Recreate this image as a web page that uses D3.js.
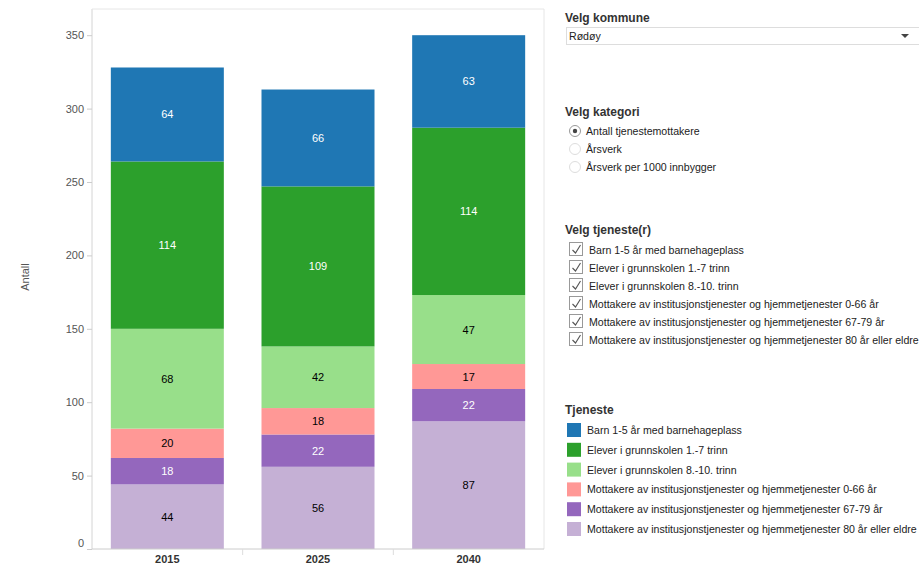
<!DOCTYPE html>
<html><head><meta charset="utf-8">
<script src="https://cdn.jsdelivr.net/npm/d3@7"></script>
<style>
body{margin:0;background:#fff;font-family:"Liberation Sans",Arial,sans-serif;}
svg text{font-family:"Liberation Sans",Arial,sans-serif;}
</style></head>
<body><svg id="c" width="919" height="575"></svg>
<script>
const years = ["2015","2025","2040"];
const services = [
  "Barn 1-5 år med barnehageplass",
  "Elever i grunnskolen 1.-7 trinn",
  "Elever i grunnskolen 8.-10. trinn",
  "Mottakere av institusjonstjenester og hjemmetjenester 0-66 år",
  "Mottakere av institusjonstjenester og hjemmetjenester 67-79 år",
  "Mottakere av institusjonstjenester og hjemmetjenester 80 år eller eldre"
];
const colors = ["#1f77b4","#2ca02c","#98df8a","#ff9896","#9467bd","#c5b0d5"];
const labelColors = ["#fff","#fff","#000","#000","#fff","#000"];
// values per service, per year (2015, 2025, 2040)
const barn = [64, 66, 63];
const elever17 = [114, 109, 114];
const elever810 = [68, 42, 47];
const mott066 = [20, 18, 17];
const mott6779 = [18, 22, 22];
const mott80 = [44, 56, 87];
const yTicks = [0,50,100,150,200,250,300,350];
const kategorier = ["Antall tjenestemottakere","Årsverk","Årsverk per 1000 innbygger"];
const kommune = "Rødøy";

const seriesVals = [barn, elever17, elever810, mott066, mott6779, mott80];
const rows = years.map((y,i)=>{const o={year:y}; services.forEach((s,k)=>o[s]=seriesVals[k][i]); return o;});
const stackOrder = services.slice().reverse();
const stacked = d3.stack().keys(stackOrder)(rows);

const svg = d3.select("#c");
const L=92, R=544, T=9, B=549;
const FS = 10.6;
const x = d3.scaleBand().domain(years).range([L,R]).paddingInner(0.25).paddingOuter(0.125);
const y = d3.scaleLinear().domain([0,350]).range([B,B-350*1.468]);

// frame
svg.append("line").attr("x1",L).attr("x2",L).attr("y1",T).attr("y2",B).attr("stroke","#d4d4d4");
svg.append("line").attr("x1",L).attr("x2",R).attr("y1",T).attr("y2",T).attr("stroke","#e6e6e6");
svg.append("line").attr("x1",R).attr("x2",R).attr("y1",T).attr("y2",B).attr("stroke","#e6e6e6");

// bars
stacked.forEach(layer=>{
  const k = services.indexOf(layer.key);
  const g = svg.append("g");
  g.selectAll("rect").data(layer).join("rect")
    .attr("x",d=>x(d.data.year)).attr("width",x.bandwidth())
    .attr("y",d=>y(d[1])).attr("height",d=>y(d[0])-y(d[1]))
    .attr("fill",colors[k]);
  g.selectAll("text").data(layer).join("text")
    .attr("x",d=>x(d.data.year)+x.bandwidth()/2)
    .attr("y",d=>(y(d[0])+y(d[1]))/2+4)
    .attr("text-anchor","middle").attr("font-size",11)
    .attr("fill",labelColors[k])
    .text(d=>d[1]-d[0]);
});

// y axis
const ya = svg.append("g").attr("transform",`translate(${L},0)`)
  .call(d3.axisLeft(y).tickValues(yTicks).tickSize(5).tickPadding(3));
ya.select(".domain").remove();
ya.selectAll(".tick line").attr("stroke","#ccc");
ya.selectAll(".tick text").attr("fill","#555").attr("font-size",11)
  .attr("dy",d=>d===0?"-0.2em":"0.32em");

// x axis
svg.append("line").attr("x1",L).attr("x2",R).attr("y1",B).attr("y2",B).attr("stroke","#ccc");
const step = x.step();
years.slice(1).forEach(yr=>{
  const xx = x(yr) - x.paddingInner()*step/2;
  svg.append("line").attr("x1",xx).attr("x2",xx).attr("y1",B).attr("y2",B+6).attr("stroke","#ddd");
});
svg.append("g").selectAll("text").data(years).join("text")
  .attr("x",d=>x(d)+x.bandwidth()/2).attr("y",B+14)
  .attr("text-anchor","middle").attr("font-size",11).attr("font-weight","bold").attr("fill","#333")
  .text(d=>d);

// y title
svg.append("text").attr("transform","translate(29,277) rotate(-90)").attr("text-anchor","middle")
  .attr("font-size",11).attr("fill","#555").text("Antall");

// right panel
const P = 565;
function title(t,yy){svg.append("text").attr("x",P).attr("y",yy).attr("font-size",12).attr("font-weight","bold").attr("fill","#333").text(t);}
title("Velg kommune",22);
svg.append("rect").attr("x",566.5).attr("y",27.5).attr("width",360).attr("height",17).attr("fill","#fff").attr("stroke","#ddd");
svg.append("text").attr("x",569).attr("y",40).attr("font-size",FS).attr("fill","#222").text(kommune);
svg.append("path").attr("d","M901,34 L909,34 L905,38 Z").attr("fill","#444");

title("Velg kategori",116);
kategorier.forEach((k,i)=>{
  const cy = 131+i*18;
  svg.append("circle").attr("cx",575).attr("cy",cy).attr("r",5.5).attr("fill","#fff").attr("stroke",i===0?"#999":"#ddd");
  if(i===0) svg.append("circle").attr("cx",575).attr("cy",cy).attr("r",2.2).attr("fill","#444");
  svg.append("text").attr("x",586).attr("y",cy+4).attr("font-size",FS).attr("fill","#222").text(k);
});

title("Velg tjeneste(r)",234);
services.forEach((s,i)=>{
  const cy = 250+i*18;
  svg.append("rect").attr("x",569.5).attr("y",cy-7.5).attr("width",13).attr("height",13).attr("fill","#fff").attr("stroke","#999");
  svg.append("path").attr("d",`M572.5,${cy} L575.5,${cy+3} L580.5,${cy-5}`).attr("fill","none").attr("stroke","#555").attr("stroke-width",1.1);
  svg.append("text").attr("x",589).attr("y",cy+4).attr("font-size",FS).attr("fill","#222").text(s);
});

title("Tjeneste",414);
services.forEach((s,i)=>{
  const cy = 430+i*19.8;
  svg.append("rect").attr("x",567).attr("y",cy-7).attr("width",14).attr("height",14).attr("fill",colors[i]);
  svg.append("text").attr("x",587).attr("y",cy+4).attr("font-size",FS).attr("fill","#222").text(s);
});
</script></body></html>
